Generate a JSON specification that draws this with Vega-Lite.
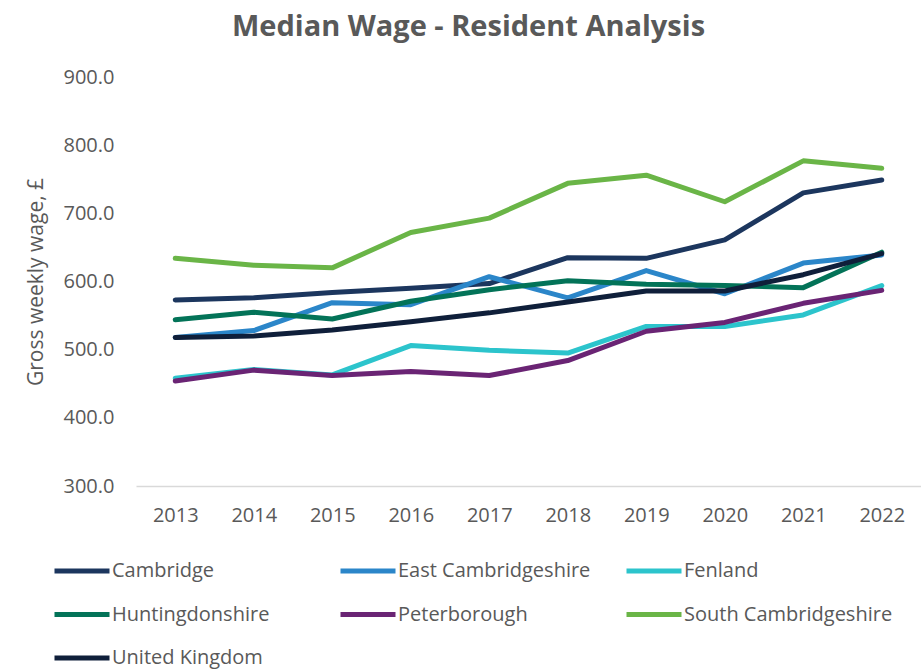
{
  "$schema": "https://vega.github.io/schema/vega-lite/v6.json",
  "width": 785,
  "height": 409,
  "autosize": {"type": "none"},
  "padding": {"left": 136, "top": 77, "right": 0, "bottom": 186},
  "background": "white",
  "title": {
    "text": "Median Wage - Resident Analysis",
    "font": "Open Sans",
    "fontSize": 29,
    "fontWeight": "bold",
    "color": "#595959",
    "anchor": "middle",
    "dx": -60,
    "offset": 25
  },
  "config": {
    "view": {"stroke": null},
    "font": "Open Sans"
  },
  "data": {
    "values": [
      {"area": "Cambridge", "year": "2013", "wage": 573},
      {"area": "Cambridge", "year": "2014", "wage": 576},
      {"area": "Cambridge", "year": "2015", "wage": 584},
      {"area": "Cambridge", "year": "2016", "wage": 590},
      {"area": "Cambridge", "year": "2017", "wage": 597},
      {"area": "Cambridge", "year": "2018", "wage": 635},
      {"area": "Cambridge", "year": "2019", "wage": 634},
      {"area": "Cambridge", "year": "2020", "wage": 661},
      {"area": "Cambridge", "year": "2021", "wage": 730},
      {"area": "Cambridge", "year": "2022", "wage": 749},
      {"area": "East Cambridgeshire", "year": "2013", "wage": 518},
      {"area": "East Cambridgeshire", "year": "2014", "wage": 528},
      {"area": "East Cambridgeshire", "year": "2015", "wage": 569},
      {"area": "East Cambridgeshire", "year": "2016", "wage": 566},
      {"area": "East Cambridgeshire", "year": "2017", "wage": 607},
      {"area": "East Cambridgeshire", "year": "2018", "wage": 576},
      {"area": "East Cambridgeshire", "year": "2019", "wage": 616},
      {"area": "East Cambridgeshire", "year": "2020", "wage": 582},
      {"area": "East Cambridgeshire", "year": "2021", "wage": 627},
      {"area": "East Cambridgeshire", "year": "2022", "wage": 639},
      {"area": "Fenland", "year": "2013", "wage": 458},
      {"area": "Fenland", "year": "2014", "wage": 471},
      {"area": "Fenland", "year": "2015", "wage": 463},
      {"area": "Fenland", "year": "2016", "wage": 506},
      {"area": "Fenland", "year": "2017", "wage": 499},
      {"area": "Fenland", "year": "2018", "wage": 495},
      {"area": "Fenland", "year": "2019", "wage": 534},
      {"area": "Fenland", "year": "2020", "wage": 534},
      {"area": "Fenland", "year": "2021", "wage": 551},
      {"area": "Fenland", "year": "2022", "wage": 594},
      {"area": "Huntingdonshire", "year": "2013", "wage": 544},
      {"area": "Huntingdonshire", "year": "2014", "wage": 555},
      {"area": "Huntingdonshire", "year": "2015", "wage": 545},
      {"area": "Huntingdonshire", "year": "2016", "wage": 571},
      {"area": "Huntingdonshire", "year": "2017", "wage": 588},
      {"area": "Huntingdonshire", "year": "2018", "wage": 601},
      {"area": "Huntingdonshire", "year": "2019", "wage": 596},
      {"area": "Huntingdonshire", "year": "2020", "wage": 594},
      {"area": "Huntingdonshire", "year": "2021", "wage": 591},
      {"area": "Huntingdonshire", "year": "2022", "wage": 643},
      {"area": "Peterborough", "year": "2013", "wage": 454},
      {"area": "Peterborough", "year": "2014", "wage": 470},
      {"area": "Peterborough", "year": "2015", "wage": 462},
      {"area": "Peterborough", "year": "2016", "wage": 468},
      {"area": "Peterborough", "year": "2017", "wage": 462},
      {"area": "Peterborough", "year": "2018", "wage": 484},
      {"area": "Peterborough", "year": "2019", "wage": 527},
      {"area": "Peterborough", "year": "2020", "wage": 540},
      {"area": "Peterborough", "year": "2021", "wage": 568},
      {"area": "Peterborough", "year": "2022", "wage": 587},
      {"area": "South Cambridgeshire", "year": "2013", "wage": 634},
      {"area": "South Cambridgeshire", "year": "2014", "wage": 624},
      {"area": "South Cambridgeshire", "year": "2015", "wage": 620},
      {"area": "South Cambridgeshire", "year": "2016", "wage": 672},
      {"area": "South Cambridgeshire", "year": "2017", "wage": 693},
      {"area": "South Cambridgeshire", "year": "2018", "wage": 744},
      {"area": "South Cambridgeshire", "year": "2019", "wage": 756},
      {"area": "South Cambridgeshire", "year": "2020", "wage": 717},
      {"area": "South Cambridgeshire", "year": "2021", "wage": 777},
      {"area": "South Cambridgeshire", "year": "2022", "wage": 766},
      {"area": "United Kingdom", "year": "2013", "wage": 518},
      {"area": "United Kingdom", "year": "2014", "wage": 520},
      {"area": "United Kingdom", "year": "2015", "wage": 529},
      {"area": "United Kingdom", "year": "2016", "wage": 541},
      {"area": "United Kingdom", "year": "2017", "wage": 554},
      {"area": "United Kingdom", "year": "2018", "wage": 570},
      {"area": "United Kingdom", "year": "2019", "wage": 586},
      {"area": "United Kingdom", "year": "2020", "wage": 586},
      {"area": "United Kingdom", "year": "2021", "wage": 610},
      {"area": "United Kingdom", "year": "2022", "wage": 641}
    ]
  },
  "mark": {"type": "line", "strokeWidth": 5, "strokeCap": "round", "strokeJoin": "round"},
  "encoding": {
    "x": {
      "field": "year",
      "type": "ordinal",
      "scale": {"type": "point", "padding": 0.5},
      "axis": {
        "title": null,
        "labelAngle": 0,
        "labelFont": "Open Sans",
        "labelFontSize": 20,
        "labelColor": "#595959",
        "labelPadding": 19,
        "ticks": false,
        "domainColor": "#d9d9d9",
        "domainWidth": 1.5,
        "grid": false
      }
    },
    "y": {
      "field": "wage",
      "type": "quantitative",
      "scale": {"domain": [300, 900], "nice": false, "zero": false},
      "axis": {
        "title": "Gross weekly wage, £",
        "titleFont": "Open Sans",
        "titleFontSize": 21,
        "titleFontWeight": "normal",
        "titleColor": "#595959",
        "titlePadding": 17,
        "values": [300, 400, 500, 600, 700, 800, 900],
        "format": ".1f",
        "labelFont": "Open Sans",
        "labelFontSize": 20,
        "labelColor": "#595959",
        "labelPadding": 22,
        "ticks": false,
        "domain": false,
        "grid": false
      }
    },
    "color": {
      "field": "area",
      "type": "nominal",
      "scale": {
        "domain": ["Cambridge", "East Cambridgeshire", "Fenland", "Huntingdonshire", "Peterborough", "South Cambridgeshire", "United Kingdom"],
        "range": ["#1c365e", "#2b86c9", "#2cc4cc", "#037358", "#6a2474", "#6ab547", "#0f1f3a"]
      },
      "legend": {
        "title": null,
        "orient": "none",
        "legendX": -84,
        "legendY": 464,
        "direction": "horizontal",
        "columns": 3,
        "gridAlign": "all",
        "columnPadding": 9,
        "rowPadding": 3.5,
        "symbolType": "stroke",
        "symbolSize": 3025,
        "symbolStrokeWidth": 5,
        "labelFont": "Open Sans",
        "labelFontSize": 20,
        "labelColor": "#595959",
        "labelOffset": 0,
        "labelLimit": 400
      }
    }
  }
}
